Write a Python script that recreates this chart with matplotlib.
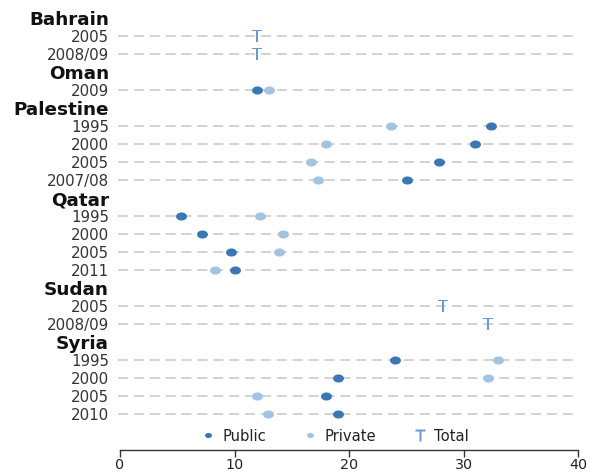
import matplotlib
matplotlib.use("Agg")
import numpy as np
import matplotlib.pyplot as plt
from matplotlib.lines import Line2D
from matplotlib.path import Path

plt.rcParams['font.family'] = ['DejaVu Sans']

# Country groups and the survey years shown under each
countries = ["Bahrain", "Oman", "Palestine", "Qatar", "Sudan", "Syria"]
years = {
    "Bahrain": ["2005", "2008/09"],
    "Oman": ["2009"],
    "Palestine": ["1995", "2000", "2005", "2007/08"],
    "Qatar": ["1995", "2000", "2005", "2011"],
    "Sudan": ["2005", "2008/09"],
    "Syria": ["1995", "2000", "2005", "2010"],
}

# Values per row (None where the series is not reported)
public = {
    "Bahrain": [None, None],
    "Oman": [12.0],
    "Palestine": [32.4, 31.0, 27.9, 25.1],
    "Qatar": [5.3, 7.2, 9.7, 10.0],
    "Sudan": [None, None],
    "Syria": [24.0, 19.0, 18.0, 19.0],
}
private = {
    "Bahrain": [None, None],
    "Oman": [13.0],
    "Palestine": [23.7, 18.0, 16.7, 17.3],
    "Qatar": [12.2, 14.2, 13.9, 8.3],
    "Sudan": [None, None],
    "Syria": [33.0, 32.1, 12.0, 12.9],
}
total = {
    "Bahrain": [12.0, 12.0],
    "Oman": [None],
    "Palestine": [None, None, None, None],
    "Qatar": [None, None, None, None],
    "Sudan": [28.2, 32.1],
    "Syria": [None, None, None, None],
}
x_ticks = [0, 10, 20, 30, 40]

PUBLIC_C = "#3a78b4"
PRIVATE_C = "#a4c3e0"
TOTAL_C = "#6a9bd0"

# slightly wide oval dot marker
_t = np.linspace(0, 2 * np.pi, 40)
OVAL = Path(np.column_stack([np.cos(_t), 0.74 * np.sin(_t)]), closed=True)

fig = plt.figure(figsize=(5.93, 4.73), dpi=100)
# axes spans x 0..40 between pixel 120 and 578; rows spaced 18 px
ax = fig.add_axes([120 / 593, 1 - 450 / 473, 458 / 593, (450 - 6) / 473])

# Build row positions: a header row per country, then its years
labels, is_header, rows = [], [], []
pub_pts, pri_pts, tot_pts = [], [], []
pos = 0
for c in countries:
    labels.append(c)
    is_header.append(True)
    rows.append(pos)
    pos += 1
    for i, yr in enumerate(years[c]):
        labels.append(yr)
        is_header.append(False)
        rows.append(pos)
        if public[c][i] is not None:
            pub_pts.append((public[c][i], pos))
        if private[c][i] is not None:
            pri_pts.append((private[c][i], pos))
        if total[c][i] is not None:
            tot_pts.append((total[c][i], pos))
        pos += 1

# dashed guide lines on the year rows
for r, h in zip(rows, is_header):
    if not h:
        ax.plot([-0.15, 40], [r, r], color="#cfcfcf", lw=1.3, ls=(0, (5.5, 3.3)),
                zorder=1, clip_on=False)

ax.scatter([p[0] for p in pri_pts], [p[1] for p in pri_pts], s=62,
           marker=OVAL, color=PRIVATE_C, zorder=3, linewidths=0)
ax.scatter([p[0] for p in pub_pts], [p[1] for p in pub_pts], s=62,
           marker=OVAL, color=PUBLIC_C, zorder=4, linewidths=0)
ax.scatter([p[0] for p in tot_pts], [p[1] for p in tot_pts], s=85,
           marker=r"$\mathsf{T}$", color=TOTAL_C, zorder=4, linewidths=0)

ax.set_xlim(0, 40)
ax.set_ylim((450 - 18) / 18, (6 - 18) / 18)
ax.set_xticks(x_ticks)
ax.set_xticklabels([str(t) for t in x_ticks], fontsize=10.3, color="#222222")
ax.set_yticks(rows)
ax.set_yticklabels(labels)
for t, h in zip(ax.get_yticklabels(), is_header):
    if h:
        t.set_fontweight("bold")
        t.set_fontsize(13.2)
        t.set_color("#111111")
    else:
        t.set_fontsize(10.8)
        t.set_color("#333333")
ax.tick_params(axis="y", length=0, pad=8)
ax.tick_params(axis="x", length=5, width=1, color="#333333", pad=1)

for s in ["top", "right", "left"]:
    ax.spines[s].set_visible(False)
ax.spines["bottom"].set_color("#333333")
ax.spines["bottom"].set_linewidth(1)
ax.spines["bottom"].set_bounds(0, 40)

handles = [
    Line2D([], [], ls="none", marker=OVAL, ms=5, color=PUBLIC_C, mec="none"),
    Line2D([], [], ls="none", marker=OVAL, ms=5, color=PRIVATE_C, mec="none"),
    Line2D([], [], ls="none", marker=r"$\mathsf{T}$", ms=8, color=TOTAL_C, mec="none"),
]
fig.legend(handles, ["Public", "Private", "Total"], ncol=3, frameon=False,
           loc="center", bbox_to_anchor=(335 / 593, 1 - 436 / 473),
           fontsize=10.6, handlelength=1.0, handletextpad=0.45,
           columnspacing=2.5, borderpad=0, labelcolor="#222222")

fig.savefig("out.png", dpi=100)
